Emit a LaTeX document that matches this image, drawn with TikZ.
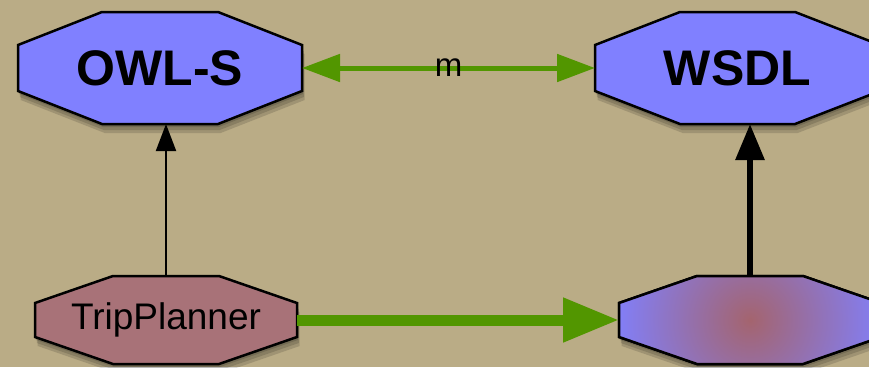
\documentclass[tikz,border=0pt]{standalone}
\usepackage{fontspec}
\setmainfont{Liberation Sans}
\definecolor{parchment}{RGB}{186,172,134}
\definecolor{owlblue}{RGB}{128,128,255}
\definecolor{tripmauve}{RGB}{168,114,120}
\definecolor{implred}{RGB}{164,100,110}
\definecolor{mapgreen}{RGB}{82,150,0}
\usetikzlibrary{arrows.meta, calc, backgrounds}

% octagon round a node: #1 node, #2 cut in x, #3 cut in y
\newcommand{\octpath}[3]{
  ($(#1.north west)+(#2,0)$) -- ($(#1.north east)+(-#2,0)$) --
  ($(#1.north east)+(0,#3)$) -- ($(#1.south east)+(0,-#3)$) --
  ($(#1.south east)+(-#2,0)$) -- ($(#1.south west)+(#2,0)$) --
  ($(#1.south west)+(0,-#3)$) -- ($(#1.north west)+(0,#3)$) -- cycle}

\begin{document}
\begin{tikzpicture}[x=1pt, y=-1pt,
    lbl/.style={inner sep=0pt, outer sep=0pt, text=black},
    octo/.style={draw=black, line width=2.5pt, line join=miter},
    link/.style={mapgreen, line width=#1}]
  \useasboundingbox (0,0) rectangle (869,367);

  % service descriptions
  \node[lbl, minimum width=284pt, minimum height=112pt,
        font=\fontsize{50}{60}\selectfont\bfseries] (owls) at (160,68) {OWL-S};
  \node[lbl, minimum width=285pt, minimum height=112pt,
        font=\fontsize{50}{60}\selectfont\bfseries] (wsdl) at (737.5,68) {WSDL};
  % client and its implementation
  \node[lbl, minimum width=262pt, minimum height=88pt,
        font=\fontsize{37}{44}\selectfont] (trip) at (166,320) {TripPlanner};
  \node[lbl, minimum width=262pt, minimum height=88pt] (impl) at (750,320) {};

  \begin{scope}[on background layer]
    \fill[parchment] (0,0) rectangle (869,367);
    \foreach \n/\cx/\cy/\fc in {owls/84/33/owlblue, wsdl/85/33/owlblue,
                                trip/78/27/tripmauve, impl/78/27/owlblue} {
      \foreach \s in {3,6,9}
        \fill[black, opacity=0.14, transform canvas={shift={(\s*0.3pt,-\s*1pt)}}]
          \octpath{\n}{\cx}{\cy};
      \filldraw[octo, fill=\fc] \octpath{\n}{\cx}{\cy};
    }
    \begin{scope}
      \clip \octpath{impl}{78}{27};
      \shade[inner color=implred, outer color=owlblue] (impl.center) circle (140);
    \end{scope}
    \draw[octo] \octpath{impl}{78}{27};
  \end{scope}

  % connectors
  \draw[link=5pt, {Triangle[length=38pt, width=27pt]}-{Triangle[length=38pt, width=27pt]}]
    (owls.east) -- node[lbl, font=\fontsize{33}{40}\selectfont] (mlabel) {m} (wsdl.west);
  \draw[link=11pt, -{Triangle[length=56pt, width=42pt]}] (trip.east) -- (impl.west);
  \draw[black, line width=2pt, -{Triangle[length=27pt, width=20pt]}]
    (trip.north) -- (trip.north |- owls.south);
  \draw[black, line width=6pt, -{Triangle[length=36pt, width=28pt]}]
    (impl.north) -- (impl.north |- wsdl.south);
\end{tikzpicture}
\end{document}
